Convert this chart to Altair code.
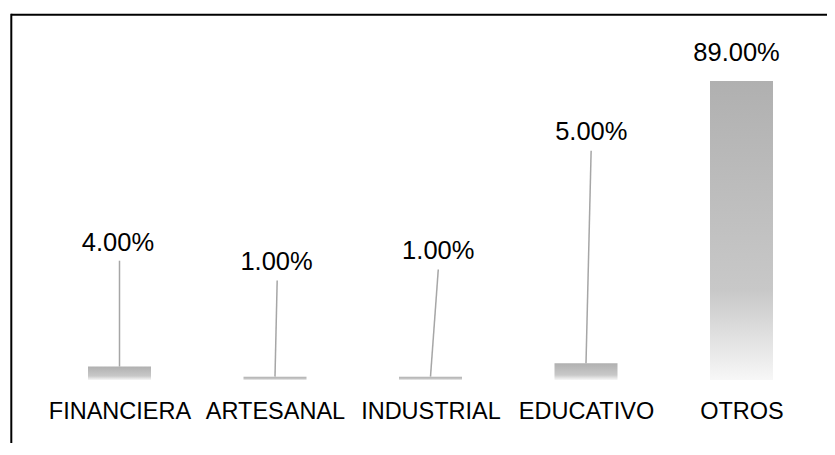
import altair as alt
import pandas as pd

# ---- data ----
categories = ["FINANCIERA", "ARTESANAL", "INDUSTRIAL", "EDUCATIVO", "OTROS"]
values = [4.0, 1.0, 1.0, 5.0, 89.0]
value_labels = ["4.00%", "1.00%", "1.00%", "5.00%", "89.00%"]

# ---- callout layout (label placement, in axis units) ----
label_y = [40.7, 35.1, 38.4, 73.7, 97.2]
label_shift = [-0.010, 0.010, 0.050, 0.034, -0.032]
leader_top = [35.5, 29.6, 32.9, 68.2]
leader_shift = [0.0, 0.014, 0.050, 0.033]

FONT = "Liberation Sans"

df = pd.DataFrame({
    "pos": list(range(len(categories))),
    "cat": categories,
    "value": values,
    "label": value_labels,
    "ly": label_y,
    "lx": [i + s for i, s in enumerate(label_shift)],
})

lead = pd.DataFrame({
    "pos": list(range(len(leader_top))),
    "value": values[:len(leader_top)],
    "top": leader_top,
    "xtop": [i + s for i, s in enumerate(leader_shift)],
})

label_expr = "[" + ",".join("'%s'" % c for c in categories) + "][datum.value]"

xscale = alt.Scale(domain=[-0.5, 4.5], range=[33.75, 811.25], nice=False, zero=False, padding=0)
yscale = alt.Scale(domain=[0, 110.7], nice=False, zero=True, padding=0)

xaxis = alt.Axis(
    values=list(range(len(categories))),
    labelExpr=label_expr,
    domain=False, ticks=False, tickSize=0, grid=False, title=None,
    labelFont=FONT, labelFontSize=23.5, labelColor="black",
    labelPadding=31, labelBaseline="middle",
    labelOverlap=False, labelFlush=False,
)

gradient = alt.Gradient(
    gradient="linear",
    stops=[
        alt.GradientStop(color="#b0b0b0", offset=0),
        alt.GradientStop(color="#c8c8c8", offset=0.7),
        alt.GradientStop(color="#f7f7f7", offset=1),
    ],
    x1=0, x2=0, y1=0, y2=1,
)

bars = alt.Chart(df).mark_bar(size=63, color=gradient).encode(
    x=alt.X("pos:Q", scale=xscale, axis=xaxis),
    y=alt.Y("value:Q", scale=yscale, axis=None),
    y2=alt.Y2(datum=0),
)

leaders = alt.Chart(lead).mark_rule(color="#a6a6a6", strokeWidth=1.5).encode(
    x=alt.X("pos:Q", scale=xscale),
    x2="xtop:Q",
    y=alt.Y("value:Q", scale=yscale),
    y2="top:Q",
)

texts = alt.Chart(df).mark_text(
    font=FONT, fontSize=25.5, color="black", align="center", baseline="middle"
).encode(
    x=alt.X("lx:Q", scale=xscale),
    y=alt.Y("ly:Q", scale=yscale),
    text="label:N",
)

frame_df = pd.DataFrame({"a": [0]})
top_line = alt.Chart(frame_df).mark_rule(color="black", strokeWidth=2).encode(
    x=alt.value(3.3), x2=alt.value(840), y=alt.value(6.8)
)
left_line = alt.Chart(frame_df).mark_rule(color="black", strokeWidth=2).encode(
    x=alt.value(3.3), y=alt.value(5.8), y2=alt.value(460)
)

chart = alt.layer(bars, leaders, texts, top_line, left_line).properties(
    width=819, height=372,
    padding={"left": 0, "top": 0, "right": 0, "bottom": 63},
    autosize="none",
    background="white",
).configure_view(stroke=None)

chart.save("out.html", embed_options={"renderer": "svg", "actions": False})
